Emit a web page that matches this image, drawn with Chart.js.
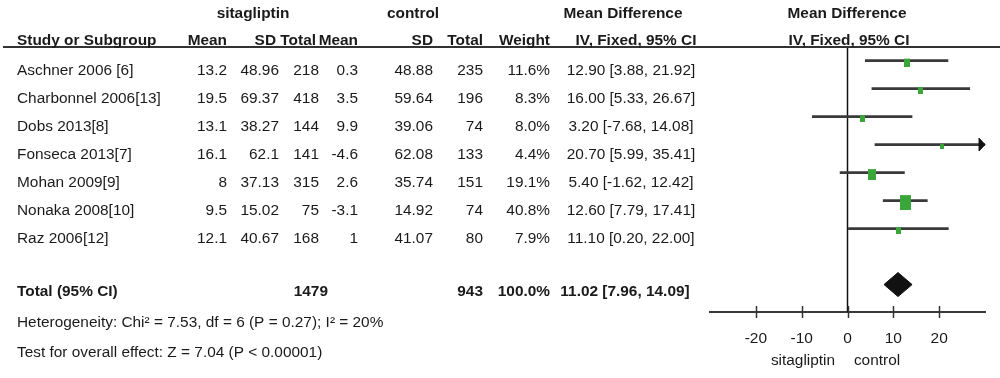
<!DOCTYPE html>
<html><head><meta charset="utf-8">
<script src="https://cdn.jsdelivr.net/npm/chart.js@4.4.1/dist/chart.umd.min.js"></script>
<style>html,body{margin:0;padding:0;background:#fff;}#wrap{width:1000px;height:378px;}</style>
</head><body><div id="wrap"><canvas id="c" width="1000" height="378"></canvas></div>
<script>
// ---- data ----
const studies = ["Aschner 2006 [6]", "Charbonnel 2006[13]", "Dobs 2013[8]", "Fonseca 2013[7]", "Mohan 2009[9]", "Nonaka 2008[10]", "Raz 2006[12]"];
const sitMean = [13.2, 19.5, 13.1, 16.1, 8, 9.5, 12.1];
const sitSD = [48.96, 69.37, 38.27, 62.1, 37.13, 15.02, 40.67];
const sitTotal = [218, 418, 144, 141, 315, 75, 168];
const ctlMean = [0.3, 3.5, 9.9, -4.6, 2.6, -3.1, 1];
const ctlSD = [48.88, 59.64, 39.06, 62.08, 35.74, 14.92, 41.07];
const ctlTotal = [235, 196, 74, 133, 151, 74, 80];
const weights = [11.6, 8.3, 8.0, 4.4, 19.1, 40.8, 7.9];
const md = [12.90, 16.00, 3.20, 20.70, 5.40, 12.60, 11.10];
const ciLow = [3.88, 5.33, -7.68, 5.99, -1.62, 7.79, 0.20];
const ciHigh = [21.92, 26.67, 14.08, 35.41, 12.42, 17.41, 22.00];
const totalSit = 1479, totalCtl = 943, totalWeight = 100.0;
const pooledMD = 11.02, pooledLow = 7.96, pooledHigh = 14.09;
const heterogeneityText = "Heterogeneity: Chi² = 7.53, df = 6 (P = 0.27); I² = 20%";
const overallText = "Test for overall effect: Z = 7.04 (P < 0.00001)";
const xTicks = [-20, -10, 0, 10, 20];
const xMin = -30, xMax = 30;
const favourLabels = ["sitagliptin", "control"];
const groupHeaders = ["sitagliptin", "control", "Mean Difference", "Mean Difference"];
const colHeaders = ["Study or Subgroup", "Mean", "SD", "Total", "Mean", "SD", "Total", "Weight", "IV, Fixed, 95% CI", "IV, Fixed, 95% CI"];
const totalLabel = "Total (95% CI)";

// ---- presentation ----
const FONT = '"Liberation Sans", Arial, sans-serif';
const STRETCH = 1.1;
const TOTAL_ROW = 8;
const GREEN = 'rgb(58,166,58)';
const DARK = '#3a3a3a';

function makeSquare(w) {
  const sw = Math.max(3, Math.round(1.72 * Math.sqrt(w)));
  const sh = Math.round(sw * 1.36);
  const c = document.createElement('canvas');
  c.width = sw; c.height = sh + 4;
  const g = c.getContext('2d');
  g.fillStyle = GREEN;
  g.fillRect(0, 4, sw, sh);
  return c;
}
const squares = weights.map(makeSquare);

const fmt2 = v => v.toFixed(2);
const ciText = (m, l, h) => `${fmt2(m)} [${fmt2(l)}, ${fmt2(h)}]`;

const fonsecaIdx = 3;
const arrowHalf = 0.23;

const tablePlugin = {
  id: 'table',
  beforeDatasetsDraw(chart) {
    const ctx = chart.ctx;
    const xs = chart.scales.x;
    const area = chart.chartArea;
    ctx.save();
    ctx.strokeStyle = '#111';
    ctx.lineWidth = 1.5;
    const x0 = xs.getPixelForValue(0);
    ctx.beginPath();
    ctx.moveTo(x0, 47);
    ctx.lineTo(x0, area.bottom);
    ctx.stroke();
    ctx.restore();
  },
  afterDraw(chart) {
    const ctx = chart.ctx;
    const xs = chart.scales.x, ys = chart.scales.y;
    const area = chart.chartArea;
    ctx.save();
    ctx.strokeStyle = '#333';
    ctx.lineWidth = 2;
    ctx.beginPath(); ctx.moveTo(3, 47); ctx.lineTo(1000, 47); ctx.stroke();
    ctx.lineWidth = 1.5;
    ctx.strokeStyle = '#333';
    xTicks.forEach(v => {
      const px = Math.round(xs.getPixelForValue(v)) + 0.5;
      ctx.beginPath(); ctx.moveTo(px, area.bottom - 6); ctx.lineTo(px, area.bottom + 6); ctx.stroke();
    });
    function txt(s, x, y, align, bold) {
      ctx.save();
      ctx.font = (bold ? 'bold ' : '') + '14px ' + FONT;
      ctx.textAlign = align;
      ctx.textBaseline = 'middle';
      ctx.fillStyle = '#1a1a1a';
      ctx.translate(x, y);
      ctx.scale(STRETCH, 1);
      ctx.fillText(s, 0, 0);
      ctx.restore();
    }
    txt(groupHeaders[0], 253, 14, 'center', true);
    txt(groupHeaders[1], 413, 14, 'center', true);
    txt(groupHeaders[2], 623, 14, 'center', true);
    txt(groupHeaders[3], 847, 14, 'center', true);
    const hy = 41;
    txt(colHeaders[0], 17, hy, 'left', true);
    txt(colHeaders[1], 227, hy, 'right', true);
    txt(colHeaders[2], 276, hy, 'right', true);
    txt(colHeaders[3], 316, hy, 'right', true);
    txt(colHeaders[4], 358, hy, 'right', true);
    txt(colHeaders[5], 433, hy, 'right', true);
    txt(colHeaders[6], 483, hy, 'right', true);
    txt(colHeaders[7], 550, hy, 'right', true);
    txt(colHeaders[8], 636, hy, 'center', true);
    txt(colHeaders[9], 849, hy, 'center', true);
    studies.forEach((s, i) => {
      const y = ys.getPixelForValue(i) + 11;
      txt(s, 17, y, 'left');
      txt(String(sitMean[i]), 227, y, 'right');
      txt(String(sitSD[i]), 279, y, 'right');
      txt(String(sitTotal[i]), 319, y, 'right');
      txt(String(ctlMean[i]), 358, y, 'right');
      txt(String(ctlSD[i]), 433, y, 'right');
      txt(String(ctlTotal[i]), 483, y, 'right');
      txt(weights[i].toFixed(1) + '%', 550, y, 'right');
      txt(ciText(md[i], ciLow[i], ciHigh[i]), 631, y, 'center');
    });
    const ty = ys.getPixelForValue(TOTAL_ROW) + 8;
    txt(totalLabel, 17, ty, 'left', true);
    txt(String(totalSit), 328, ty, 'right', true);
    txt(String(totalCtl), 483, ty, 'right', true);
    txt(totalWeight.toFixed(1) + '%', 550, ty, 'right', true);
    txt(ciText(pooledMD, pooledLow, pooledHigh), 625, ty, 'center', true);
    txt(heterogeneityText, 17, 323, 'left');
    txt(overallText, 17, 353, 'left');
    txt(favourLabels[0], 803, 361, 'center');
    txt(favourLabels[1], 877, 361, 'center');
    ctx.restore();
  }
};

const ciData = studies.map((s, i) => ({ x: [ciLow[i], ciHigh[i]], y: i }));
const pointData = studies.map((s, i) => ({ x: md[i], y: i }));
const diamondHalf = 0.43;
const diamondData = [
  { x: pooledLow, y: TOTAL_ROW },
  { x: pooledMD, y: TOTAL_ROW - diamondHalf },
  { x: pooledHigh, y: TOTAL_ROW },
  { x: pooledMD, y: TOTAL_ROW + diamondHalf },
  { x: pooledLow, y: TOTAL_ROW }
];
const arrowTipX = Math.min(ciHigh[fonsecaIdx], xMax);
const arrowData = [
  { x: arrowTipX - 1.3, y: fonsecaIdx - arrowHalf },
  { x: arrowTipX, y: fonsecaIdx },
  { x: arrowTipX - 1.3, y: fonsecaIdx + arrowHalf },
  { x: arrowTipX - 1.3, y: fonsecaIdx - arrowHalf }
];

new Chart(document.getElementById('c'), {
  type: 'bar',
  data: {
    datasets: [
      { type: 'bar', indexAxis: 'y', data: ciData, barThickness: 2, backgroundColor: DARK, borderWidth: 0, clip: 0, order: 3 },
      { type: 'line', data: arrowData, borderColor: '#111', backgroundColor: '#111', borderWidth: 1, fill: 'shape', pointRadius: 0, tension: 0, clip: false, order: 2 },
      { type: 'scatter', data: pointData, pointStyle: ctx => squares[ctx.dataIndex], pointRadius: 4, order: 1 },
      { type: 'line', data: diamondData, borderColor: '#111', backgroundColor: '#111', borderWidth: 1, fill: 'shape', pointRadius: 0, tension: 0, order: 0 }
    ]
  },
  options: {
    responsive: false,
    devicePixelRatio: 1,
    animation: false,
    events: [],
    layout: { padding: { left: 710, right: 15, top: 48, bottom: 0 } },
    plugins: { legend: { display: false }, tooltip: { enabled: false } },
    scales: {
      x: {
        type: 'linear', position: 'bottom', min: xMin, max: xMax, offset: false,
        afterBuildTicks: s => { s.ticks = xTicks.map(v => ({ value: v })); },
        afterFit: s => { s.height = 66; },
        grid: { display: false, tickLength: 6, offset: false },
        border: { display: true, color: DARK, width: 2 },
        ticks: { color: '#1a1a1a', padding: 11, font: { size: 15.5, family: FONT }, maxRotation: 0 }
      },
      y: {
        type: 'linear', display: false, reverse: true, min: -0.45, max: 8.98, offset: false,
        grid: { offset: false }
      }
    }
  },
  plugins: [tablePlugin]
});
</script>
</body></html>
